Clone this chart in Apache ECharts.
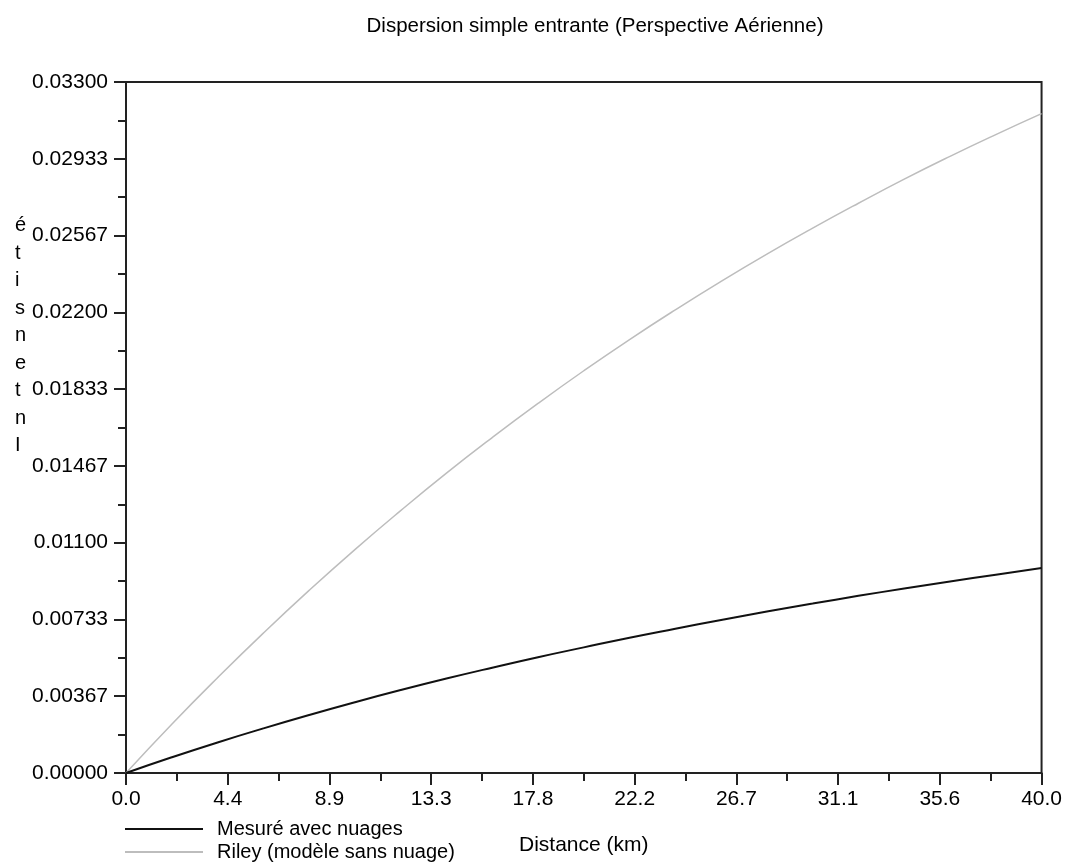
<!DOCTYPE html>
<html>
<head>
<meta charset="utf-8">
<script src="https://cdn.jsdelivr.net/npm/echarts@6/dist/echarts.min.js"></script>
<style>
html,body{margin:0;padding:0;background:#fff;}
#chart{width:1065px;height:863px;}
</style>
</head>
<body>
<div id="chart"></div>
<script>
const titleText = 'Dispersion simple entrante (Perspective Aérienne)';
const xAxisName = 'Distance (km)';
const yAxisName = 'Intensité';
const seriesNames = ['Mesuré avec nuages', 'Riley (modèle sans nuage)'];

const distance = [0, 2, 4, 6, 8, 10, 12, 14, 16, 18, 20, 22, 24, 26, 28, 30, 32, 34, 36, 38, 40];
const measured = [0, 0.00075, 0.00146, 0.00213, 0.00277, 0.00338, 0.00396, 0.00451, 0.00503, 0.00553, 0.00600,
  0.00646, 0.00689, 0.00731, 0.00771, 0.00809, 0.00846, 0.00881, 0.00915, 0.00947, 0.00979];
const riley = [0, 0.00233, 0.00455, 0.00668, 0.00872, 0.01067, 0.01253, 0.01432, 0.01602, 0.01765, 0.01921,
  0.02070, 0.02212, 0.02348, 0.02478, 0.02602, 0.02721, 0.02836, 0.02945, 0.03049, 0.03149];

const xTickLabels = ['0.0', '4.4', '8.9', '13.3', '17.8', '22.2', '26.7', '31.1', '35.6', '40.0'];
const yTickLabels = ['0.00000', '0.00367', '0.00733', '0.01100', '0.01467', '0.01833', '0.02200', '0.02567', '0.02933', '0.03300'];

const xMax = 40;
const yMax = 0.033;

const font = 'Liberation Sans, Arial, sans-serif';
const fs = 20;
const fsAxis = 21;

const chart = echarts.init(document.getElementById('chart'), null, {renderer: 'canvas'});

function pairs(xs, ys) { return xs.map((x, i) => [x, ys[i]]); }

const option = {
  backgroundColor: '#ffffff',
  animation: false,
  title: {
    text: titleText,
    left: 590,
    top: 11,
    textAlign: 'center',
    textStyle: {fontFamily: font, fontSize: 20.5, fontWeight: 'normal', color: '#000'}
  },
  legend: {
    orient: 'vertical',
    left: 125,
    top: 819,
    icon: 'rect',
    itemWidth: 78,
    itemHeight: 2,
    itemGap: 3,
    data: seriesNames,
    textStyle: {fontFamily: font, fontSize: fs, color: '#000', padding: [0, 0, 0, 9]},
    padding: 0
  },
  grid: {
    left: 126, right: 22, top: 82, bottom: 90,
    show: true, borderColor: '#222', borderWidth: 2, backgroundColor: 'transparent'
  },
  xAxis: {
    type: 'value',
    min: 0, max: xMax,
    interval: xMax / 9,
    name: xAxisName,
    nameLocation: 'middle',
    nameGap: 62,
    nameTextStyle: {fontFamily: font, fontSize: fsAxis, color: '#000'},
    axisLine: {show: true, onZero: false, lineStyle: {color: '#222', width: 2}},
    axisTick: {show: true, inside: false, length: 12, lineStyle: {color: '#222', width: 2}},
    minorTick: {show: true, splitNumber: 2, length: 8, lineStyle: {color: '#222', width: 2}},
    splitLine: {show: false},
    axisLabel: {
      margin: 16,
      fontFamily: font, fontSize: fsAxis, color: '#000',
      formatter: (v, i) => xTickLabels[i] !== undefined ? xTickLabels[i] : v.toFixed(1)
    }
  },
  yAxis: {
    type: 'value',
    min: 0, max: yMax,
    interval: yMax / 9,
    axisLine: {show: true, onZero: false, lineStyle: {color: '#222', width: 2}},
    axisTick: {show: true, inside: false, length: 12, lineStyle: {color: '#222', width: 2}},
    minorTick: {show: true, splitNumber: 2, length: 8, lineStyle: {color: '#222', width: 2}},
    splitLine: {show: false},
    axisLabel: {
      margin: 18,
      fontFamily: font, fontSize: fsAxis, color: '#000',
      formatter: (v, i) => yTickLabels[i] !== undefined ? yTickLabels[i] : v.toFixed(5)
    }
  },
  graphic: [{
    type: 'text',
    left: 15,
    top: 212,
    style: {
      text: yAxisName.split('').reverse().join('\n'),
      fontFamily: font, fontSize: fs, fill: '#000',
      lineHeight: 27.5,
      align: 'center'
    }
  }],
  series: [
    {
      name: seriesNames[0],
      type: 'line',
      data: pairs(distance, measured),
      showSymbol: false,
      symbol: 'none',
      smooth: true,
      lineStyle: {color: '#111', width: 2},
      itemStyle: {color: '#111'},
      z: 3
    },
    {
      name: seriesNames[1],
      type: 'line',
      data: pairs(distance, riley),
      showSymbol: false,
      symbol: 'none',
      smooth: true,
      lineStyle: {color: '#bdbdbd', width: 1.5},
      itemStyle: {color: '#bdbdbd'},
      z: 2
    }
  ]
};
chart.setOption(option);
</script>
</body>
</html>
